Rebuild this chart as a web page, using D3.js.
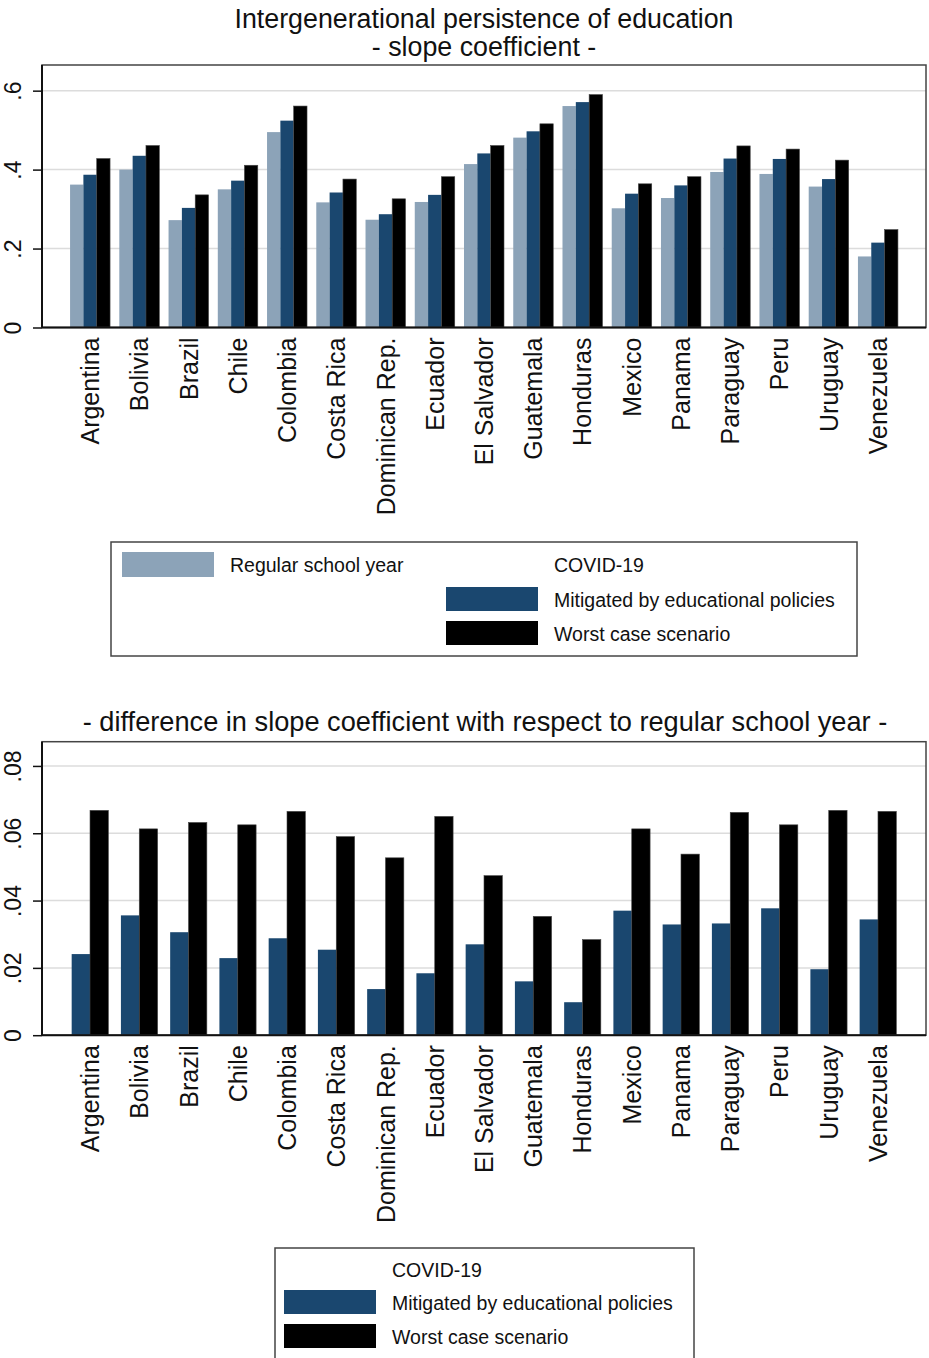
<!DOCTYPE html>
<html>
<head>
<meta charset="utf-8">
<script src="https://cdn.jsdelivr.net/npm/d3@7/dist/d3.min.js"></script>
<style>
  html, body { margin: 0; padding: 0; background: #fff; }
  svg { display: block; font-family: "Liberation Sans", Arial, sans-serif; }
</style>
</head>
<body>
<svg id="chart" width="929" height="1358"></svg>
<script>
const countries = ["Argentina","Bolivia","Brazil","Chile","Colombia","Costa Rica","Dominican Rep.","Ecuador","El Salvador","Guatemala","Honduras","Mexico","Panama","Paraguay","Peru","Uruguay","Venezuela"];
const regular   = [0.362,0.400,0.272,0.350,0.495,0.317,0.273,0.318,0.414,0.481,0.561,0.302,0.328,0.394,0.389,0.357,0.180];
const mitigated = [0.387,0.435,0.303,0.372,0.524,0.342,0.287,0.336,0.441,0.497,0.571,0.339,0.360,0.428,0.427,0.376,0.215];
const worst     = [0.428,0.461,0.336,0.411,0.561,0.376,0.326,0.382,0.461,0.516,0.590,0.364,0.382,0.460,0.452,0.424,0.248];
const diffMitigated = [0.0241,0.0356,0.0306,0.0229,0.0288,0.0254,0.0137,0.0184,0.0270,0.0160,0.0098,0.0370,0.0329,0.0332,0.0377,0.0196,0.0344];
const diffWorst     = [0.0668,0.0613,0.0632,0.0625,0.0665,0.0590,0.0527,0.0650,0.0474,0.0353,0.0284,0.0613,0.0538,0.0662,0.0625,0.0668,0.0665];
const topTicks = [0, 0.2, 0.4, 0.6];
const bottomTicks = [0, 0.02, 0.04, 0.06, 0.08];
const topTitle = ["Intergenerational persistence of education", "- slope coefficient -"];
const bottomTitle = "- difference in slope coefficient with respect to regular school year -";
const legendTop = ["Regular school year", "COVID-19", "Mitigated by educational policies", "Worst case scenario"];
const legendBottom = ["COVID-19", "Mitigated by educational policies", "Worst case scenario"];

const colors = { regular: "#8ca3b8", mitigated: "#1a476f", worst: "#000000" };
const svg = d3.select("#chart");
const fmt = v => v === 0 ? "0" : d3.format(".2~f")(v).replace(/^0\./, ".");

function panel(cfg) {
  const g = svg.append("g");
  const x0 = d3.scaleBand().domain(countries).range([cfg.left, cfg.right])
    .paddingInner(cfg.padIn).paddingOuter(cfg.padOut);
  const x1 = d3.scaleBand().domain(cfg.series.map(s => s.key)).range([0, x0.bandwidth()]);
  const y = d3.scaleLinear().domain([0, cfg.ymax]).range([cfg.bottom, cfg.top]);

  // gridlines
  g.selectAll("line.grid").data(cfg.ticks.filter(t => t > 0)).join("line")
    .attr("x1", cfg.left).attr("x2", cfg.right)
    .attr("y1", d => y(d)).attr("y2", d => y(d))
    .attr("stroke", "#dcdcdc").attr("stroke-width", 1.5);

  // bars
  const groups = g.selectAll("g.grp").data(countries).join("g")
    .attr("transform", d => `translate(${x0(d)},0)`);
  cfg.series.forEach(s => {
    groups.append("rect")
      .attr("x", x1(s.key))
      .attr("width", x1.bandwidth())
      .attr("y", (d, i) => y(s.values[i]))
      .attr("height", (d, i) => y(0) - y(s.values[i]))
      .attr("fill", colors[s.key])
      .attr("stroke", s.key === "worst" ? "#444" : "none")
      .attr("stroke-width", 0.6);
  });

  // frame
  g.append("rect").attr("x", cfg.left).attr("y", cfg.top)
    .attr("width", cfg.right - cfg.left).attr("height", cfg.bottom - cfg.top)
    .attr("fill", "none").attr("stroke", "#444").attr("stroke-width", 1.5);
  g.append("line").attr("x1", cfg.left).attr("x2", cfg.left).attr("y1", cfg.top).attr("y2", cfg.bottom)
    .attr("stroke", "#111").attr("stroke-width", 2);
  g.append("line").attr("x1", cfg.left).attr("x2", cfg.right).attr("y1", cfg.bottom).attr("y2", cfg.bottom)
    .attr("stroke", "#111").attr("stroke-width", 2);

  // y axis
  const yAxis = d3.axisLeft(y).tickValues(cfg.ticks).tickSize(9).tickFormat(fmt);
  const ya = g.append("g").attr("transform", `translate(${cfg.left},0)`).call(yAxis);
  ya.select(".domain").remove();
  ya.selectAll(".tick line").attr("stroke", "#111").attr("stroke-width", 1.5);
  ya.selectAll(".tick text")
    .attr("x", 0).attr("dy", 0)
    .attr("transform", `translate(${21 - cfg.left},0) rotate(-90)`)
    .attr("text-anchor", "middle")
    .attr("fill", "#111")
    .style("font-size", "23px");

  // x axis
  const xAxis = d3.axisBottom(x0).tickSize(0);
  const xa = g.append("g").attr("transform", `translate(0,${cfg.bottom})`).call(xAxis);
  xa.select(".domain").remove();
  xa.selectAll(".tick text")
    .attr("y", 0).attr("dy", 0)
    .attr("transform", "translate(0,10) rotate(-90)")
    .attr("text-anchor", "end")
    .attr("dominant-baseline", "central")
    .attr("fill", "#111")
    .style("font-size", "25px");
}

panel({
  left: 42, right: 926, top: 65, bottom: 327.5, ymax: 0.665,
  padIn: 0.188, padOut: 0.57, ticks: topTicks,
  series: [
    { key: "regular", values: regular },
    { key: "mitigated", values: mitigated },
    { key: "worst", values: worst }
  ]
});

panel({
  left: 42, right: 926, top: 741.7, bottom: 1035.2, ymax: 0.0872,
  padIn: 0.255, padOut: 0.6025, ticks: bottomTicks,
  series: [
    { key: "mitigated", values: diffMitigated },
    { key: "worst", values: diffWorst }
  ]
});

// titles
svg.append("text").attr("x", 484).attr("y", 28).attr("text-anchor", "middle")
  .style("font-size", "26.8px").attr("fill", "#111").text(topTitle[0]);
svg.append("text").attr("x", 484).attr("y", 56).attr("text-anchor", "middle")
  .style("font-size", "26.8px").attr("fill", "#111").text(topTitle[1]);
svg.append("text").attr("x", 485).attr("y", 731).attr("text-anchor", "middle")
  .style("font-size", "27.2px").attr("fill", "#111").text(bottomTitle);

// top legend
const L1 = svg.append("g");
L1.append("rect").attr("x", 111).attr("y", 542).attr("width", 746).attr("height", 114)
  .attr("fill", "none").attr("stroke", "#444").attr("stroke-width", 1.5);
L1.append("rect").attr("x", 122).attr("y", 552).attr("width", 92).attr("height", 25).attr("fill", colors.regular);
L1.append("rect").attr("x", 446).attr("y", 587).attr("width", 92).attr("height", 24).attr("fill", colors.mitigated);
L1.append("rect").attr("x", 446).attr("y", 621).attr("width", 92).attr("height", 24).attr("fill", colors.worst);
[[230, 565, legendTop[0]], [554, 565, legendTop[1]], [554, 600, legendTop[2]], [554, 634, legendTop[3]]]
  .forEach(([x, y, t]) => L1.append("text").attr("x", x).attr("y", y)
    .attr("dominant-baseline", "central").style("font-size", "19.5px").attr("fill", "#111").text(t));

// bottom legend
const L2 = svg.append("g");
L2.append("rect").attr("x", 275).attr("y", 1248).attr("width", 419).attr("height", 112)
  .attr("fill", "none").attr("stroke", "#444").attr("stroke-width", 1.5);
L2.append("rect").attr("x", 284).attr("y", 1290).attr("width", 92).attr("height", 24).attr("fill", colors.mitigated);
L2.append("rect").attr("x", 284).attr("y", 1324).attr("width", 92).attr("height", 24).attr("fill", colors.worst);
[[392, 1270, legendBottom[0]], [392, 1303, legendBottom[1]], [392, 1337, legendBottom[2]]]
  .forEach(([x, y, t]) => L2.append("text").attr("x", x).attr("y", y)
    .attr("dominant-baseline", "central").style("font-size", "19.5px").attr("fill", "#111").text(t));
</script>
</body>
</html>
